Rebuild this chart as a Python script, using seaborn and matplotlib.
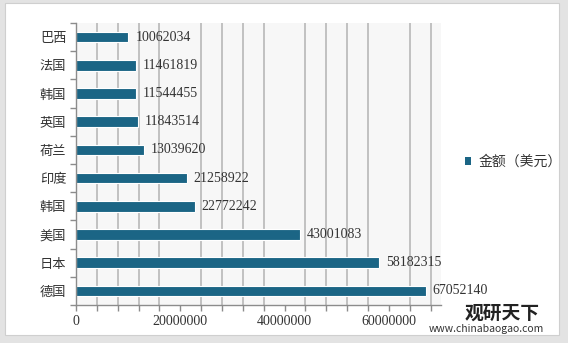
import matplotlib
matplotlib.use("Agg")
import matplotlib.pyplot as plt
from matplotlib.patches import Rectangle, Patch
from matplotlib.ticker import MultipleLocator, FixedLocator
import seaborn as sns
import pandas as pd
import numpy as np

countries = ["巴西", "法国", "韩国", "英国", "荷兰", "印度", "韩国", "美国", "日本", "德国"]
values = [10062034, 11461819, 11544455, 11843514, 13039620, 21258922, 22772242, 43001083, 58182315, 67052140]
series_name = "金额（美元）"
x_ticks = [0, 20000000, 40000000, 60000000]

sns.set_theme(style="white")
plt.rcParams['font.family'] = ['Noto Sans CJK SC', 'DejaVu Sans']

BAR = "#1b6585"
df = pd.DataFrame({"key": [str(i) for i in range(len(countries))], "value": values})

fig = plt.figure(figsize=(5.68, 3.43), dpi=100)
# outer frame
fig.patches.append(Rectangle((0, 0), 1, 1, transform=fig.transFigure, facecolor="#e3e3e3", edgecolor="none", zorder=-3))
fig.patches.append(Rectangle((5/568, 8/343), 554/568, 332/343, transform=fig.transFigure, facecolor="white", edgecolor="#cfcfcf", lw=0.8, zorder=-2))

ax = fig.add_axes([76/568, 38/343, 365/568, 282/343])
sns.barplot(data=df, x="value", y="key", orient="h", color=BAR, width=0.38,
            edgecolor="white", linewidth=0.8, ax=ax, saturation=1)
ax.set_facecolor("#f7f7f7")
ax.set_xlim(0, 70000000)
ax.set_ylim(9.5, -0.5)
ax.xaxis.set_major_locator(FixedLocator(x_ticks))
ax.xaxis.set_minor_locator(MultipleLocator(4000000))
ax.grid(axis="x", which="minor", color="#b8b8b8", lw=1.2)
ax.grid(axis="y", visible=False)
ax.set_axisbelow(True)
ax.set_xticklabels([str(t) for t in x_ticks], family="Liberation Serif", fontsize=10, color="#333333")
ax.set_yticks(range(len(countries)))
ax.set_yticklabels(countries, fontsize=9.5, color="#333333")
ax.set_xlabel("")
ax.set_ylabel("")
for s in ["top", "right"]:
    ax.spines[s].set_visible(False)
for s in ["left", "bottom"]:
    ax.spines[s].set_color("#8c8c8c")
    ax.spines[s].set_linewidth(1)
ax.tick_params(axis="x", which="both", length=4, direction="out", color="#8c8c8c", bottom=True, width=1, pad=3)
ax.tick_params(axis="y", length=0, pad=7)
# category boundary ticks on y axis
ax.set_yticks(np.arange(-0.5, len(countries), 1), minor=True)
ax.tick_params(axis="y", which="minor", length=4, left=True, color="#8c8c8c", width=1)

ax.bar_label(ax.containers[0], labels=[str(v) for v in values], padding=5,
             family="Liberation Serif", fontsize=10, color="#333333")

handle = Patch(facecolor=BAR, edgecolor="none")
fig.legend([handle], [series_name], loc="center left", bbox_to_anchor=(452/568, 1 - 162/343),
           frameon=False, fontsize=10, handlelength=0.5, handleheight=0.5, handletextpad=0.5,
           labelcolor="#333333")

fig.text(465/568, 1 - 313/343, "观研天下", fontsize=13.5, fontweight="bold", color="#222222", va="center")
fig.text(429/568, 1 - 329/343, "www.chinabaogao.com", fontsize=7.5, color="#333333", va="center")

fig.savefig("out.png", dpi=100)
